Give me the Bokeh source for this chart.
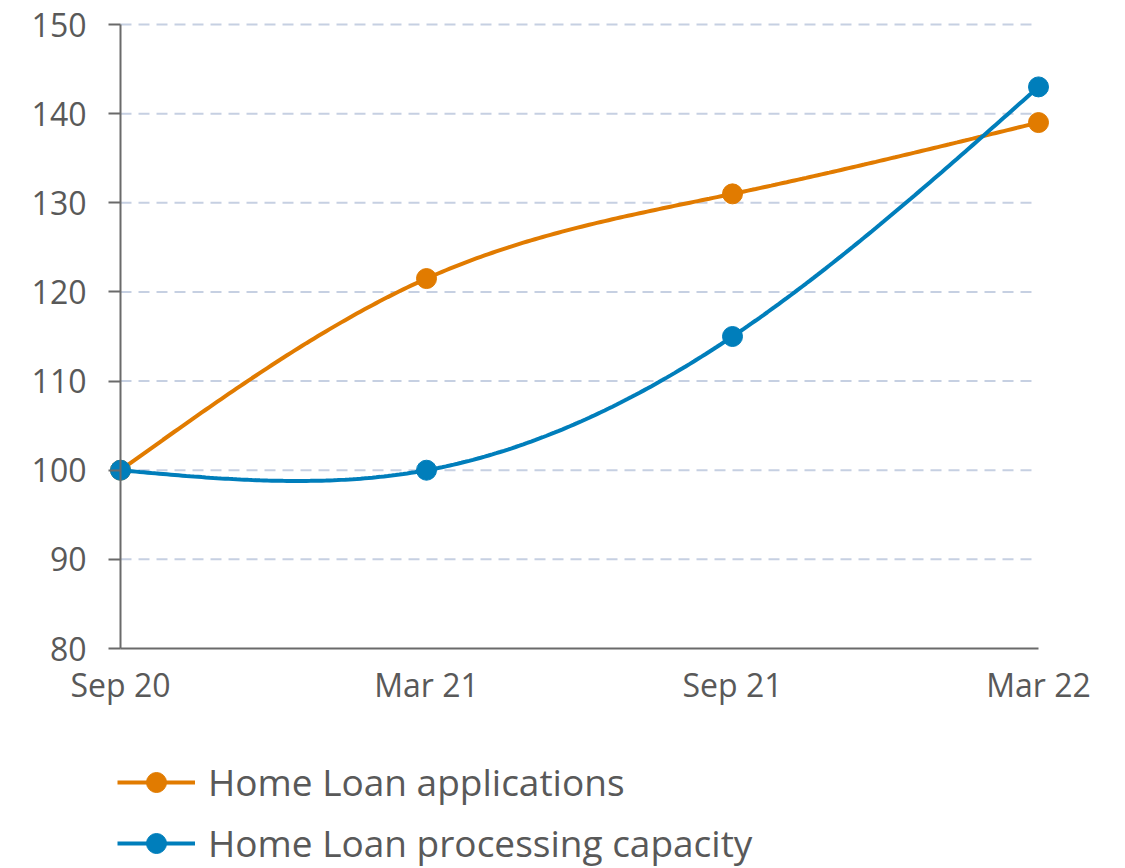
import numpy as np
from bokeh.plotting import figure
from bokeh.models import Range1d, FixedTicker, Legend, LegendItem
from bokeh.embed import file_html
from bokeh.resources import INLINE

# ---------------- data ----------------
periods = ["Sep 20", "Mar 21", "Sep 21", "Mar 22"]
applications = [100, 121.5, 131, 139]
capacity = [100, 100, 115, 143]
y_ticks = [80, 90, 100, 110, 120, 130, 140, 150]
series_names = ["Home Loan applications", "Home Loan processing capacity"]
series_colors = ["#E17B00", "#007EBB"]

TEXT = "#595959"
AXIS = "#6a6a6a"
GRID = "#c6d0e2"
FONT = "Open Sans"

x = np.arange(len(periods), dtype=float)


def natural_spline(xs, ys, per_seg=80):
    xs = np.asarray(xs, float)
    ys = np.asarray(ys, float)
    n = len(xs)
    h = np.diff(xs)
    A = np.zeros((n, n))
    r = np.zeros(n)
    A[0, 0] = 1.0
    A[-1, -1] = 1.0
    for i in range(1, n - 1):
        A[i, i - 1] = h[i - 1]
        A[i, i] = 2 * (h[i - 1] + h[i])
        A[i, i + 1] = h[i]
        r[i] = 6 * ((ys[i + 1] - ys[i]) / h[i] - (ys[i] - ys[i - 1]) / h[i - 1])
    M = np.linalg.solve(A, r)
    out_x, out_y = [], []
    for i in range(n - 1):
        t = np.linspace(xs[i], xs[i + 1], per_seg)
        hi = h[i]
        s = (M[i] * (xs[i + 1] - t) ** 3 / (6 * hi)
             + M[i + 1] * (t - xs[i]) ** 3 / (6 * hi)
             + (ys[i] / hi - M[i] * hi / 6) * (xs[i + 1] - t)
             + (ys[i + 1] / hi - M[i + 1] * hi / 6) * (t - xs[i]))
        if i > 0:
            t, s = t[1:], s[1:]
        out_x.extend(t.tolist())
        out_y.extend(s.tolist())
    return out_x, out_y


# Plot area: 918 px wide for the 3 period steps, 624 px tall for 80..150.
# The frame is extended on all sides so axis labels and the legend
# are drawn inside it.
PX_PER_X = 306.0
PX_PER_Y = 624 / (y_ticks[-1] - y_ticks[0])
LEFT_EXTRA = 100   # px left of first period
RIGHT_EXTRA = 72   # px right of last period
TOP_EXTRA = 19     # px above the top tick
BOTTOM_EXTRA = 220  # px below the bottom tick (x labels + legend)
FRAME_W = int(round(PX_PER_X * (x[-1] - x[0]) + LEFT_EXTRA + RIGHT_EXTRA))
FRAME_H = int(round(624 + TOP_EXTRA + BOTTOM_EXTRA))

p = figure(
    frame_width=FRAME_W, frame_height=FRAME_H,
    x_range=Range1d(x[0] - LEFT_EXTRA / PX_PER_X, x[-1] + RIGHT_EXTRA / PX_PER_X),
    y_range=Range1d(y_ticks[0] - BOTTOM_EXTRA / PX_PER_Y,
                    y_ticks[-1] + TOP_EXTRA / PX_PER_Y),
    output_backend="svg", toolbar_location=None,
    min_border_left=20, min_border_right=10,
    min_border_top=5, min_border_bottom=0,
)
p.outline_line_color = None
p.xgrid.visible = False
p.ygrid.visible = False
p.background_fill_color = "white"
p.border_fill_color = "white"

# dashed horizontal grid lines spanning the data extent
p.segment(x0=x[0], x1=x[-1], y0=y_ticks[1:], y1=y_ticks[1:],
          line_color=GRID, line_width=2, line_dash="11 7", level="underlay")

# y axis fixed at the first period
ya = p.yaxis[0]
ya.fixed_location = x[0]
ya.ticker = FixedTicker(ticks=y_ticks)
ya.bounds = (y_ticks[0], y_ticks[-1])
ya.axis_line_color = AXIS
ya.axis_line_width = 2
ya.major_tick_line_color = AXIS
ya.major_tick_line_width = 2
ya.major_tick_out = 12
ya.major_tick_in = 0
ya.minor_tick_line_color = None
ya.major_label_standoff = 22
ya.major_label_text_font = FONT
ya.major_label_text_font_size = "32px"
ya.major_label_text_color = TEXT

# x axis fixed at the bottom of the value range
xa = p.xaxis[0]
xa.fixed_location = y_ticks[0]
xa.ticker = FixedTicker(ticks=x.tolist())
xa.major_label_overrides = {float(i): lab for i, lab in zip(x, periods)}
xa.bounds = (x[0], x[-1])
xa.axis_line_color = AXIS
xa.axis_line_width = 2
xa.major_tick_line_color = None
xa.major_tick_out = 0
xa.major_tick_in = 0
xa.minor_tick_line_color = None
xa.major_label_standoff = 14
xa.major_label_text_font = FONT
xa.major_label_text_font_size = "32px"
xa.major_label_text_color = TEXT

items = []
for name, vals, col in zip(series_names, [applications, capacity], series_colors):
    sx, sy = natural_spline(x, vals)
    lr = p.line(sx, sy, line_color=col, line_width=4)
    sr = p.scatter(x, vals, size=20, fill_color=col, line_color=col)
    items.append(LegendItem(label=name, renderers=[lr, sr]))

legend = Legend(
    items=items, location=(LEFT_EXTRA - 3, 0), orientation="vertical",
    glyph_width=78, glyph_height=50, label_height=50, spacing=10,
    label_standoff=13, padding=0, margin=0,
    border_line_color=None, background_fill_alpha=0,
    label_text_font=FONT, label_text_font_size="37px",
    label_text_color=TEXT,
)
p.add_layout(legend, "center")

open("out.html", "w").write(file_html(p, INLINE))
